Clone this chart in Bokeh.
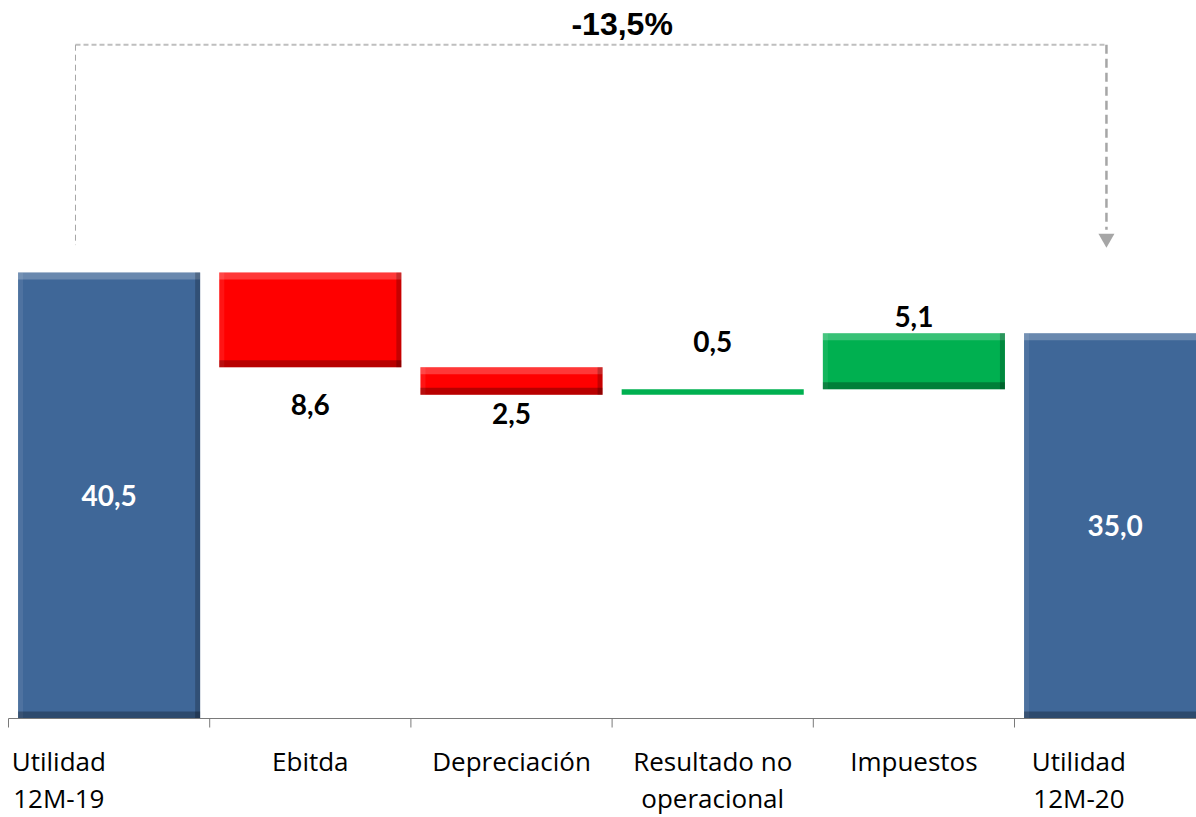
from bokeh.plotting import figure
from bokeh.models import Range1d, ColumnDataSource
from bokeh.core.properties import value
from bokeh.embed import file_html
from bokeh.resources import INLINE

# ---------------- data ----------------
categories = ["Utilidad\n12M-19", "Ebitda", "Depreciación", "Resultado no\noperacional", "Impuestos", "Utilidad\n12M-20"]
values = [40.5, -8.6, -2.5, 0.5, 5.1, 35.0]
kinds = ["total", "delta", "delta", "delta", "delta", "total"]
value_labels = ["40,5", "8,6", "2,5", "0,5", "5,1", "35,0"]
change_label = "-13,5%"

# ---------------- styling / layout constants ----------------
W, H = 1196, 817
PX_X = 201.2          # pixels per category
PX_Y = 11.01          # pixels per value unit
X0_PX = 8             # pixel column of the first category boundary
BASE_PX = 718         # baseline pixel row from the top of the figure
BLUE, RED, GREEN = "#3F6798", "#FF0000", "#00B050"
BAR_W = 0.905
LABEL_FONT = "Lato"
CAT_FONT = "Open Sans"
label_gap_px = [0, 37, 19, 48, 17, 0]              # distance of delta labels from bar edge
cat_label_dx = [-0.25, 0, 0, 0, 0, -0.18]           # horizontal nudge of category labels
BRACKET_X = (0.333, 5.457)
BRACKET_Y_TOP = 61.2
BRACKET_LEFT_BOTTOM = 43.0
BRACKET_RIGHT_BOTTOM = 44.4
ARROW_Y = 43.6
CHANGE_X, CHANGE_Y = 3.05, 63.1

def py(px):  # pixel distance -> value units
    return px / PX_Y

def pxx(px):  # pixel distance -> category units
    return px / PX_X

# ---------------- waterfall geometry ----------------
bottoms, tops, colors = [], [], []
level = 0.0
for v, k in zip(values, kinds):
    if k == "total":
        b, t = 0.0, v
        level = v
        colors.append(BLUE)
    else:
        new = level + v
        b, t = min(level, new), max(level, new)
        level = new
        colors.append(GREEN if v > 0 else RED)
    bottoms.append(b)
    tops.append(t)

xs = [i + 0.5 for i in range(len(categories))]
x_end = (W - X0_PX) / PX_X

p = figure(width=W, height=H, output_backend="svg", toolbar_location=None,
           x_range=Range1d(-X0_PX / PX_X, x_end),
           y_range=Range1d(-(H - BASE_PX) / PX_Y, BASE_PX / PX_Y),
           x_axis_location=None, y_axis_location=None,
           min_border=0, min_border_left=0, min_border_right=0,
           min_border_top=0, min_border_bottom=0)
p.outline_line_color = None
p.xgrid.visible = False
p.ygrid.visible = False
p.background_fill_color = "white"
p.border_fill_color = "white"

src = ColumnDataSource(dict(x=xs, bottom=bottoms, top=tops, color=colors))
p.vbar(x="x", width=BAR_W, bottom="bottom", top="top", source=src,
       fill_color="color", line_color=None)

# bevel effect (only on bars tall enough)
bev = 7
tl, tr, tb, tt = [], [], [], []
bl, br, bb, bt = [], [], [], []
sl, sr, sb, st = [], [], [], []
rl, rr, rb, rt = [], [], [], []
for x, b, t in zip(xs, bottoms, tops):
    if (t - b) * PX_Y < 3 * bev:
        continue
    l, r = x - BAR_W / 2, x + BAR_W / 2
    tl.append(l); tr.append(r); tb.append(t - py(bev)); tt.append(t)
    bl.append(l); br.append(r); bb.append(b); bt.append(b + py(bev))
    sl.append(l); sr.append(l + pxx(5)); sb.append(b); st.append(t)
    rl.append(r - pxx(5)); rr.append(r); rb.append(b); rt.append(t)
p.quad(left=tl, right=tr, bottom=tb, top=tt, fill_color="white", fill_alpha=0.22, line_color=None)
p.quad(left=sl, right=sr, bottom=sb, top=st, fill_color="white", fill_alpha=0.08, line_color=None)
p.quad(left=rl, right=rr, bottom=rb, top=rt, fill_color="black", fill_alpha=0.22, line_color=None)
p.quad(left=bl, right=br, bottom=bb, top=bt, fill_color="black", fill_alpha=0.28, line_color=None)

# axis line and ticks
p.segment(x0=[0], y0=[0], x1=[x_end], y1=[0], line_color="#7A7A7A", line_width=1)
p.segment(x0=list(range(len(categories))), y0=[0] * len(categories),
          x1=list(range(len(categories))), y1=[-py(9)] * len(categories),
          line_color="#7A7A7A", line_width=1)

# category labels (two lines)
line1 = [c.split("\n")[0] for c in categories]
line2 = [c.split("\n")[1] if "\n" in c else "" for c in categories]
lx = [x + d for x, d in zip(xs, cat_label_dx)]
p.text(x=lx, y=[-py(42)] * len(lx), text=line1, text_align="center", text_baseline="middle",
       text_font=value(CAT_FONT), text_font_size="26px", text_color="black")
p.text(x=lx, y=[-py(79)] * len(lx), text=line2, text_align="center", text_baseline="middle",
       text_font=value(CAT_FONT), text_font_size="26px", text_color="black")

# value labels
vx, vy, vt, vc = [], [], [], []
for i, (v, k) in enumerate(zip(values, kinds)):
    if k == "total":
        y = (bottoms[i] + tops[i]) / 2
        c = "white"
    elif v < 0:
        y = bottoms[i] - py(label_gap_px[i])
        c = "black"
    else:
        y = tops[i] + py(label_gap_px[i])
        c = "black"
    vx.append(xs[i]); vy.append(y); vt.append(value_labels[i]); vc.append(c)
p.text(x=vx, y=vy, text=vt, text_color=vc, text_align="center", text_baseline="middle",
       text_font=value(LABEL_FONT), text_font_style="bold", text_font_size="28px")

# dashed bracket with arrow
p.line(x=list(BRACKET_X), y=[BRACKET_Y_TOP, BRACKET_Y_TOP], line_color="#BFBFBF",
       line_width=2, line_dash="5 3")
p.line(x=[BRACKET_X[0], BRACKET_X[0]], y=[BRACKET_Y_TOP, BRACKET_LEFT_BOTTOM],
       line_color="#A6A6A6", line_width=1, line_dash="6 4")
p.line(x=[BRACKET_X[1], BRACKET_X[1]], y=[BRACKET_Y_TOP, BRACKET_RIGHT_BOTTOM],
       line_color="#A6A6A6", line_width=2.5, line_dash="9 5")
p.scatter(x=[BRACKET_X[1]], y=[ARROW_Y], marker="inverted_triangle", size=16,
          fill_color="#A6A6A6", line_color=None)

p.text(x=[CHANGE_X], y=[CHANGE_Y], text=[change_label], text_align="center", text_baseline="middle",
       text_font=value("Liberation Sans"), text_font_style="bold", text_font_size="32px",
       text_color="black")

open("out.html", "w").write(file_html(p, INLINE))
